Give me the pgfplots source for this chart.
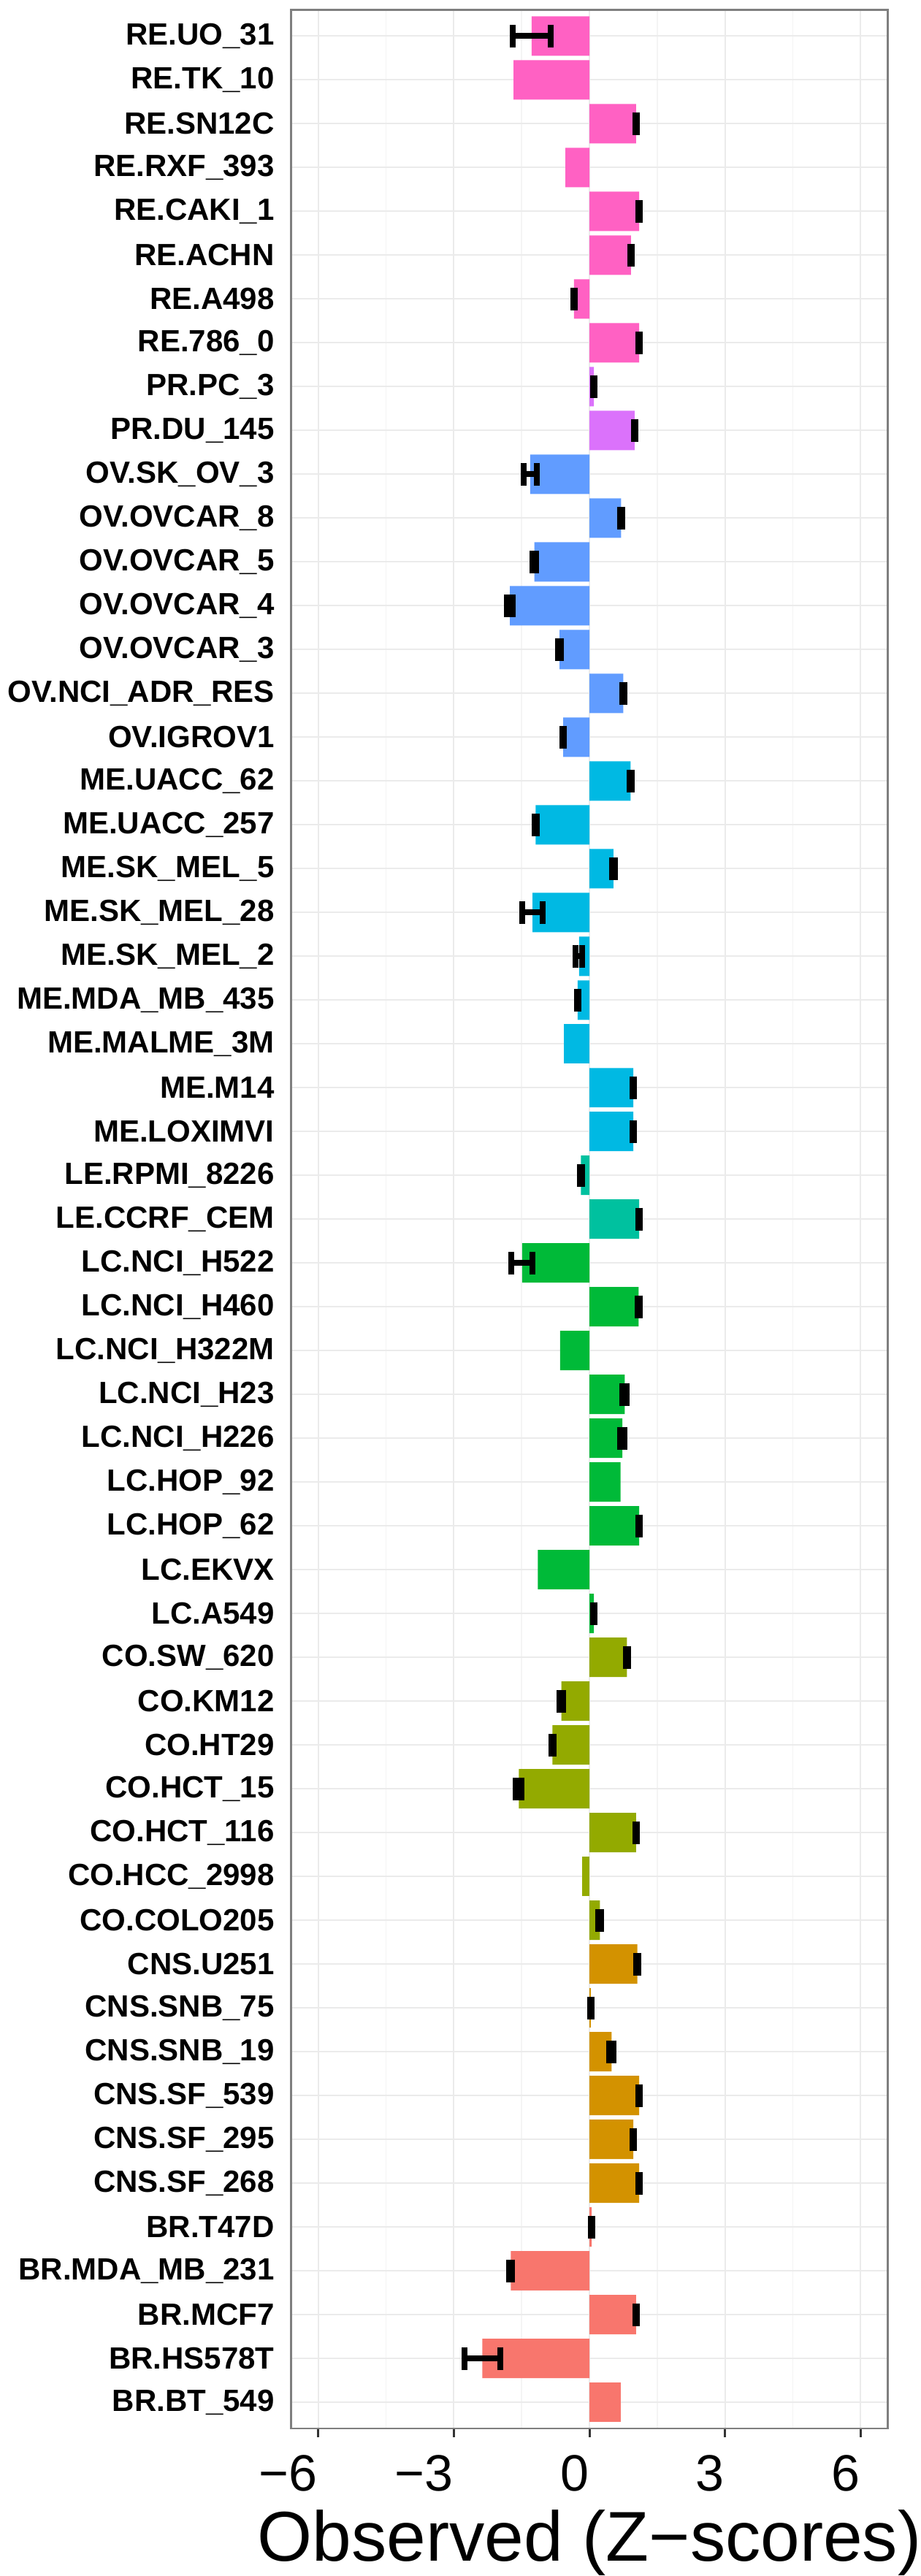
\documentclass[border=0pt]{standalone}
\usepackage{fontspec}
\setmainfont{Liberation Sans}
\usepackage{pgfplots}
\pgfplotsset{compat=1.18}
\definecolor{cBR}{HTML}{F8766D}
\definecolor{cCNS}{HTML}{D39200}
\definecolor{cCO}{HTML}{93AA00}
\definecolor{cLC}{HTML}{00BA38}
\definecolor{cLE}{HTML}{00C19F}
\definecolor{cME}{HTML}{00B9E3}
\definecolor{cOV}{HTML}{619CFF}
\definecolor{cPR}{HTML}{DB72FB}
\definecolor{cRE}{HTML}{FF61C3}
\definecolor{gridmaj}{HTML}{EBEBEB}
\definecolor{gridmin}{HTML}{F4F4F4}
\definecolor{bordc}{HTML}{7F7F7F}
\definecolor{tickc}{HTML}{333333}
\pgfplotsset{
  hb/.style={xbar, bar shift=0pt, bar width=0.9, draw=none, fill=#1},
  hbe/.style={xbar, bar shift=0pt, bar width=0.9, draw=none, fill=#1,
    error bars/.cd, x dir=both, x explicit, error mark=|,
    error bar style={line width=1.6pt, black},
    error mark options={line width=1.6pt, black, mark size=3.1pt}},
}
\begin{document}
\begin{tikzpicture}
\useasboundingbox (-79.7pt,-40.4pt) rectangle (172.3pt,665pt);
\begin{axis}[
  at={(0,0)}, anchor=south west, scale only axis,
  width=163.4pt, height=662.3pt,
  xmin=-6.6, xmax=6.6, ymin=-0.6, ymax=54.6,
  xtick={-6,-3,0,3,6}, xticklabels={−6,−3,0,3,6},
  minor xtick={-4.5,-1.5,1.5,4.5},
  ytick={0,...,54},
  yticklabels={BR.BT\_549,BR.HS578T,BR.MCF7,BR.MDA\_MB\_231,BR.T47D,CNS.SF\_268,CNS.SF\_295,CNS.SF\_539,CNS.SNB\_19,CNS.SNB\_75,CNS.U251,CO.COLO205,CO.HCC\_2998,CO.HCT\_116,CO.HCT\_15,CO.HT29,CO.KM12,CO.SW\_620,LC.A549,LC.EKVX,LC.HOP\_62,LC.HOP\_92,LC.NCI\_H226,LC.NCI\_H23,LC.NCI\_H322M,LC.NCI\_H460,LC.NCI\_H522,LE.CCRF\_CEM,LE.RPMI\_8226,ME.LOXIMVI,ME.M14,ME.MALME\_3M,ME.MDA\_MB\_435,ME.SK\_MEL\_2,ME.SK\_MEL\_28,ME.SK\_MEL\_5,ME.UACC\_257,ME.UACC\_62,OV.IGROV1,OV.NCI\_ADR\_RES,OV.OVCAR\_3,OV.OVCAR\_4,OV.OVCAR\_5,OV.OVCAR\_8,OV.SK\_OV\_3,PR.DU\_145,PR.PC\_3,RE.786\_0,RE.A498,RE.ACHN,RE.CAKI\_1,RE.RXF\_393,RE.SN12C,RE.TK\_10,RE.UO\_31},
  grid=both,
  major grid style={color=gridmaj, line width=0.4pt},
  minor grid style={color=gridmin, line width=0.3pt},
  axis line style={color=bordc, line width=0.55pt},
  tick align=outside,
  xtick pos=bottom,
  major tick length=2.4pt,
  minor tick length=0pt,
  xtick style={color=tickc, line width=0.6pt},
  ytick style={draw=none},
  xticklabel style={font=\fontsize{14}{14}\selectfont, anchor=north east, inner sep=0pt, yshift=-4.8pt},
  yticklabel style={font=\bfseries\fontsize{8.4}{9}\selectfont, anchor=east, inner sep=0pt, xshift=-2pt},
  xlabel={Observed (Z−scores)},
  xlabel style={at={(axis description cs:0.5,0)}, anchor=base, yshift=-36.2pt, inner sep=0pt, font=\fontsize{19.3}{19.3}\selectfont},
]
% BR
\addplot[hb=cBR] coordinates {(0.70,0)};
\addplot[hbe=cBR] coordinates {(-2.37,1) +- (0.40,0) (1.03,2) +- (0.02,0) (-1.74,3) +- (0.03,0) (0.05,4) +- (0.02,0)};
% CNS
\addplot[hbe=cCNS] coordinates {(1.10,5) +- (0.02,0) (0.97,6) +- (0.02,0) (1.10,7) +- (0.02,0) (0.49,8) +- (0.05,0) (0.03,9) +- (0.02,0) (1.06,10) +- (0.02,0)};
% CO
\addplot[hb=cCO] coordinates {(-0.16,12)};
\addplot[hbe=cCO] coordinates {(0.23,11) +- (0.03,0) (1.03,13) +- (0.02,0) (-1.56,14) +- (0.065,0) (-0.82,15) +- (0.02,0) (-0.62,16) +- (0.04,0) (0.83,17) +- (0.03,0)};
% LC
\addplot[hb=cLC] coordinates {(-1.14,19) (0.69,21) (-0.65,24)};
\addplot[hbe=cLC] coordinates {(0.10,18) +- (0.02,0) (1.10,20) +- (0.02,0) (0.73,22) +- (0.05,0) (0.78,23) +- (0.05,0) (1.09,25) +- (0.02,0) (-1.49,26) +- (0.235,0)};
% LE
\addplot[hbe=cLE] coordinates {(1.10,27) +- (0.02,0) (-0.19,28) +- (0.02,0)};
% ME
\addplot[hb=cME] coordinates {(-0.56,31)};
\addplot[hbe=cME] coordinates {(0.97,29) +- (0.02,0) (0.97,30) +- (0.02,0) (-0.26,32) +- (0.02,0) (-0.23,33) +- (0.07,0) (-1.26,34) +- (0.22,0) (0.53,35) +- (0.03,0) (-1.19,36) +- (0.02,0) (0.91,37) +- (0.02,0)};
% OV
\addplot[hbe=cOV] coordinates {(-0.58,38) +- (0.02,0) (0.75,39) +- (0.02,0) (-0.66,40) +- (0.03,0) (-1.76,41) +- (0.07,0) (-1.22,42) +- (0.04,0) (0.70,43) +- (0.02,0) (-1.31,44) +- (0.15,0)};
% PR
\addplot[hbe=cPR] coordinates {(1.00,45) +- (0.02,0) (0.10,46) +- (0.02,0)};
% RE
\addplot[hb=cRE] coordinates {(-0.53,51) (-1.68,53)};
\addplot[hbe=cRE] coordinates {(1.10,47) +- (0.02,0) (-0.34,48) +- (0.02,0) (0.92,49) +- (0.02,0) (1.10,50) +- (0.02,0) (1.03,52) +- (0.02,0) (-1.28,54) +- (0.42,0)};
\end{axis}
\end{tikzpicture}
\end{document}
